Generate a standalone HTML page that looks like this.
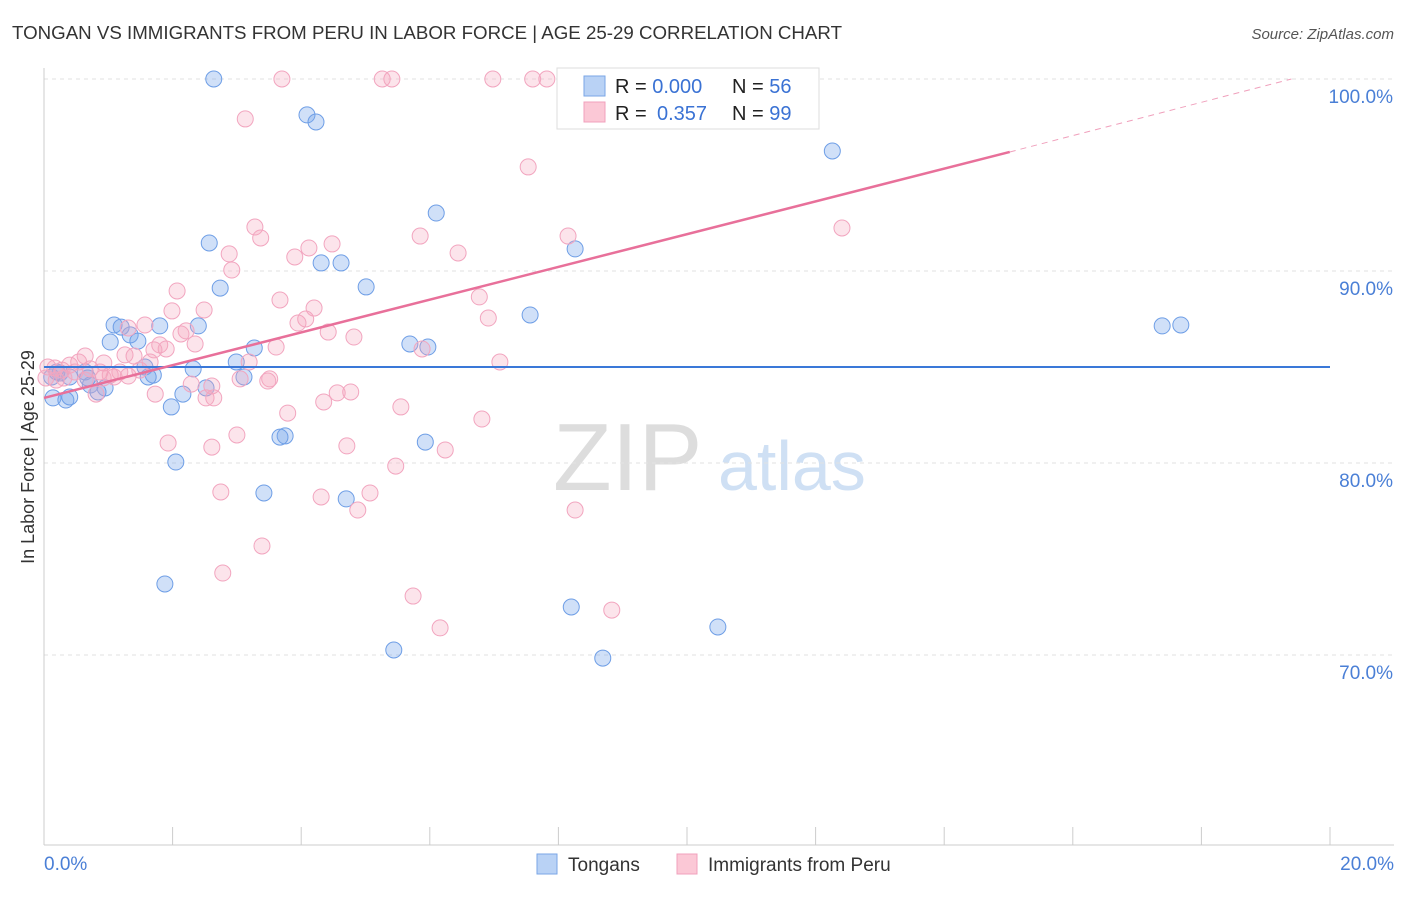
<!DOCTYPE html>
<html><head><meta charset="utf-8"><style>
body{margin:0;background:#fff;font-family:"Liberation Sans",sans-serif}
svg text{font-family:"Liberation Sans",sans-serif}
</style></head><body>
<svg id="c" width="1406" height="892">
<text x="12" y="39" font-size="18" fill="#333" textLength="830" lengthAdjust="spacingAndGlyphs">TONGAN VS IMMIGRANTS FROM PERU IN LABOR FORCE | AGE 25-29 CORRELATION CHART</text>
<text x="1394" y="39" font-size="15" fill="#555" font-style="italic" text-anchor="end">Source: ZipAtlas.com</text>
<g><text x="553" y="490" font-size="96" fill="#ddd" font-family="Liberation Serif,serif">ZIP</text><text x="718" y="490" font-size="70" fill="#cfe0f4">atlas</text></g>
<g id="grid"></g><g id="pts"></g><g id="lines"></g>
<text transform="translate(34,457) rotate(-90)" font-size="18" fill="#333" text-anchor="middle">In Labor Force | Age 25-29</text>
<text x="44" y="870" font-size="19" fill="#4a7fd6">0.0%</text>
<text x="1394" y="870" font-size="19" fill="#4a7fd6" text-anchor="end">20.0%</text>
<g>
<rect x="557" y="68" width="262" height="61" fill="#fff" stroke="#ddd"/>
<rect x="584" y="76" width="21" height="20" fill="#b9d2f5" stroke="#7aa6e6"/>
<rect x="584" y="102" width="21" height="20" fill="#fbc8d6" stroke="#f0a0bc"/>
<text x="615" y="93" font-size="20" fill="#222">R = <tspan fill="#3a72d4">0.000</tspan><tspan x="732">N = </tspan><tspan fill="#3a72d4">56</tspan></text>
<text x="615" y="120" font-size="20" fill="#222">R = <tspan x="657" fill="#3a72d4">0.357</tspan><tspan x="732">N = </tspan><tspan fill="#3a72d4">99</tspan></text>
</g>
<g>
<rect x="537" y="854" width="20" height="20" fill="#b9d2f5" stroke="#7aa6e6"/><text x="568" y="871" font-size="19" fill="#333">Tongans</text>
<rect x="677" y="854" width="20" height="20" fill="#fbc8d6" stroke="#f0a0bc"/><text x="708" y="871" font-size="19" fill="#333">Immigrants from Peru</text>
</g>
</svg>
<script>
const yTicks=[100,90,80,70];
const xTicks=[0,2,4,6,8,10,12,14,16,18,20];
const blueX=[2.64,4.09,4.23,12.26,6.10,2.57,8.26,4.31,4.62,2.74,5.01,7.56,1.09,1.20,1.80,2.40,1.34,1.46,1.03,5.69,5.97,3.27,2.99,2.32,1.57,1.70,1.62,0.64,0.25,0.12,0.40,0.72,0.95,0.84,2.16,2.52,3.11,0.14,0.34,0.40,1.98,3.75,3.67,5.93,2.05,3.42,4.70,1.88,8.20,10.48,5.44,8.69,17.39,17.68,0.68,0.20];
const blueY=[100,98.13,97.76,96.25,93.02,91.46,91.15,90.42,90.42,89.11,89.17,87.71,87.19,87.08,87.14,87.14,86.67,86.35,86.30,86.20,86.04,85.99,85.26,84.90,85.00,84.58,84.48,84.74,84.69,84.48,84.48,84.06,83.91,83.70,83.59,83.91,84.48,83.39,83.28,83.44,82.92,81.41,81.35,81.09,80.05,78.44,78.13,73.70,72.50,71.46,70.26,69.84,87.14,87.19,84.43,84.74];
const pinkX=[3.70,5.26,5.41,6.98,7.60,7.82,8.91,9.50,3.13,7.53,12.41,3.28,3.37,5.85,8.15,4.12,4.48,2.88,3.90,6.44,2.92,2.07,3.67,2.49,4.20,1.99,6.77,6.91,4.07,3.95,1.57,1.31,2.21,4.42,2.13,4.82,5.88,3.61,1.80,1.90,2.35,1.71,1.26,1.40,0.64,0.54,0.93,0.40,7.09,3.19,1.65,0.17,0.72,1.18,1.09,0.92,1.31,0.31,0.19,0.03,3.05,3.51,3.48,2.29,2.61,0.81,1.73,2.52,2.64,4.56,4.77,4.35,5.55,3.79,6.81,3.00,1.93,2.61,4.71,6.24,5.47,2.75,4.31,5.07,4.88,8.26,3.39,2.78,5.74,8.83,6.16,0.06,0.28,0.48,1.03,1.49,0.64,0.87];
const pinkY=[100,100,100,100,100,100,100,100,97.92,95.42,92.24,92.29,91.72,91.82,91.82,91.20,91.41,90.89,90.73,90.94,90.05,88.96,88.49,87.97,88.07,87.92,88.65,87.55,87.50,87.29,87.19,87.03,86.88,86.82,86.72,86.56,85.94,86.04,86.15,85.94,86.20,85.89,85.63,85.57,85.57,85.26,85.21,85.10,85.26,85.26,85.26,84.95,84.90,84.74,84.48,84.43,84.53,84.43,84.32,84.43,84.38,84.38,84.27,84.11,84.01,83.59,83.59,83.39,83.39,83.65,83.70,83.18,82.92,82.60,82.29,81.46,81.04,80.83,80.89,80.68,79.84,78.49,78.23,78.44,77.55,77.55,75.68,74.27,73.07,72.34,71.41,85.00,84.84,84.74,84.58,84.84,84.32,84.74];
const blueTrend=[0,20,85.0,85.0];
const pinkTrend=[0,83.39,15.02,96.2,19.4,100];
const NS='http://www.w3.org/2000/svg';
const sx=v=>44+v*64.3, sy=v=>79+(100-v)*19.2;
function mk(t,a,p){const e=document.createElementNS(NS,t);for(const k in a)e.setAttribute(k,a[k]);p.appendChild(e);return e;}
const grid=document.getElementById('grid');
yTicks.forEach(t=>{const l=mk('line',{x1:44,x2:1394,y1:sy(t),y2:sy(t),stroke:'#e2e2e2','stroke-dasharray':'4,4'},grid);


const tx=mk('text',{x:1393,y:sy(t)+24,'font-size':19,fill:'#4a7fd6','text-anchor':'end'},grid);tx.textContent=t.toFixed(1)+'%';

});
mk('line',{x1:44,x2:44,y1:68,y2:845,stroke:'#ccc'},grid);
mk('line',{x1:44,x2:1394,y1:845,y2:845,stroke:'#ccc'},grid);
xTicks.forEach(t=>{const l=mk('line',{x1:sx(t),x2:sx(t),y1:827,y2:845,stroke:'#ccc'},grid);

});
const pts=document.getElementById('pts');
blueX.forEach((x,i)=>{const c=mk('circle',{cx:sx(x),cy:sy(blueY[i]),r:8,fill:'rgba(120,165,235,0.35)',stroke:'#6e9ee6','stroke-width':1},pts);

});
pinkX.forEach((x,i)=>{const c=mk('circle',{cx:sx(x),cy:sy(pinkY[i]),r:8,fill:'rgba(245,165,190,0.3)',stroke:'#f2a5bf','stroke-width':1},pts);

});
const lines=document.getElementById('lines');
const b=mk('line',{x1:sx(blueTrend[0]),x2:sx(blueTrend[1]),y1:sy(blueTrend[2]),y2:sy(blueTrend[3]),stroke:'#3a78d8','stroke-width':2},lines);


const p=mk('line',{x1:sx(pinkTrend[0]),y1:sy(pinkTrend[1]),x2:sx(pinkTrend[2]),y2:sy(pinkTrend[3]),stroke:'#e8709a','stroke-width':2.5},lines);


const pd=mk('line',{x1:sx(pinkTrend[2]),y1:sy(pinkTrend[3]),x2:sx(pinkTrend[4]),y2:sy(pinkTrend[5]),stroke:'#f0a0bc','stroke-width':1,'stroke-dasharray':'6,5'},lines);


</script>
</body></html>
